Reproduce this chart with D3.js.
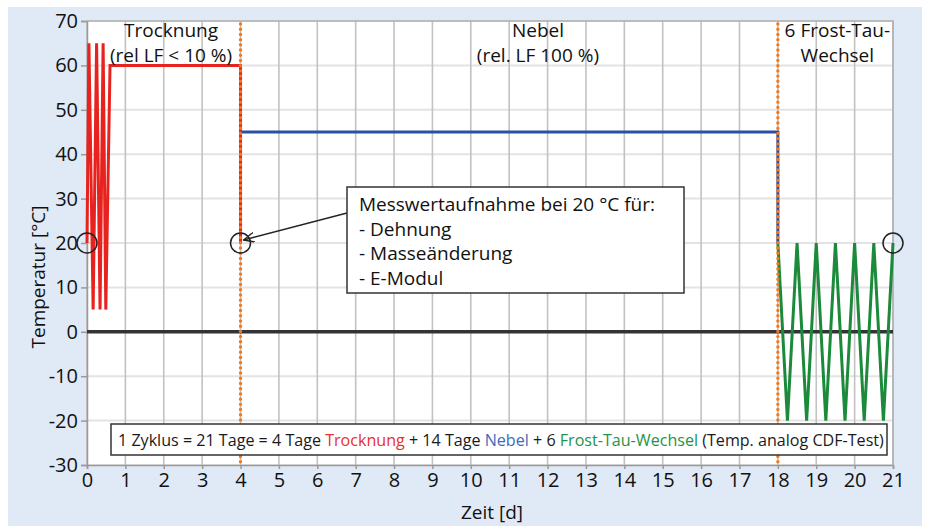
<!DOCTYPE html>
<html><head><meta charset="utf-8">
<script src="https://cdn.jsdelivr.net/npm/d3@7"></script>
<style>body{margin:0;background:#fff}svg{display:block;font-family:"Open Sans",sans-serif}</style>
</head><body>
<svg id="c" width="925" height="526"></svg>
<script>
// ---- data ----
const xTicks = [0,1,2,3,4,5,6,7,8,9,10,11,12,13,14,15,16,17,18,19,20,21];
const yTicks = [-30,-20,-10,0,10,20,30,40,50,60,70];
const trocknungX = [0,0.05,0.16,0.25,0.34,0.42,0.49,0.6,4,4];
const trocknungY = [20,65,5,65,5,65,5,60,60,20];
const nebelX = [4,18,18];
const nebelY = [45,45,20];
const frostX = [18,18.25,18.5,18.75,19,19.25,19.5,19.75,20,20.25,20.5,20.75,21];
const frostY = [20,-20,20,-20,20,-20,20,-20,20,-20,20,-20,20];
const phaseBounds = [4,18];
const measureX = [0,4,21];
const measureY = [20,20,20];
const zeroLine = [0,21];
const phaseLabels = [
  {x:2.19,  lines:["Trocknung","(rel LF < 10 %)"]},
  {x:11.75, lines:["Nebel","(rel. LF 100 %)"]},
  {x:19.55, lines:["6 Frost-Tau-","Wechsel"]}
];
const noteLines = ["Messwertaufnahme bei 20 °C für:","- Dehnung","- Masseänderung","- E-Modul"];
const legendParts = [
  {t:"1 Zyklus = 21 Tage = 4 Tage ", c:"#1a1a1a"},
  {t:"Trocknung", c:"#e8302c"},
  {t:" + 14 Tage ", c:"#1a1a1a"},
  {t:"Nebel", c:"#3a6cc0"},
  {t:" + 6 ", c:"#1a1a1a"},
  {t:"Frost-Tau-Wechsel", c:"#1e9447"},
  {t:" (Temp. analog CDF-Test)", c:"#1a1a1a"}
];

const svg = d3.select("#c");
svg.append("rect").attr("x",8).attr("y",7).attr("width",914).attr("height",519).attr("fill","#e0e9f6");

const x = d3.scaleLinear().domain([0,21]).range([87,893]);
const y = d3.scaleLinear().domain([-30,70]).range([465,21]);

svg.append("rect").attr("x",x(0)).attr("y",y(70)).attr("width",x(21)-x(0)).attr("height",y(-30)-y(70)).attr("fill","#fff");

// grid
svg.append("g").selectAll("line").data(yTicks).join("line")
  .attr("x1",x(0)).attr("x2",x(21)).attr("y1",d=>y(d)).attr("y2",d=>y(d))
  .attr("stroke","#e3e3e3").attr("stroke-width",2);
svg.append("g").selectAll("line").data(xTicks).join("line")
  .attr("x1",d=>x(d)).attr("x2",d=>x(d)).attr("y1",y(70)).attr("y2",y(-30))
  .attr("stroke","#c2c2c2").attr("stroke-width",1.6);

// axes
const fmt = d => String(d);
const yAxis = svg.append("g").attr("transform",`translate(${x(0)},0)`)
  .call(d3.axisLeft(y).tickValues(yTicks).tickFormat(fmt).tickSize(6).tickPadding(3));
const xAxis = svg.append("g").attr("transform",`translate(0,${y(-30)})`)
  .call(d3.axisBottom(x).tickValues(xTicks).tickFormat(fmt).tickSize(4).tickPadding(4));
[yAxis,xAxis].forEach(a=>{
  a.select(".domain").attr("stroke","#9a9a9a").attr("stroke-width",1.5);
  a.selectAll(".tick line").attr("stroke","#9a9a9a").attr("stroke-width",1.5);
  a.selectAll("text").attr("font-size",20).attr("fill","#111").attr("font-family","'Open Sans',sans-serif");
});
// frame top/right
svg.append("path").attr("d",`M${x(0)},${y(70)}H${x(21)}V${y(-30)}`).attr("fill","none").attr("stroke","#b0b0b0").attr("stroke-width",1.5);

// zero line
svg.append("line").attr("x1",x(zeroLine[0])).attr("x2",x(zeroLine[1])).attr("y1",y(0)).attr("y2",y(0))
  .attr("stroke","#333").attr("stroke-width",3.5);

const line = d3.line().x(d=>x(d[0])).y(d=>y(d[1]));
function series(xs,ys,color){
  svg.append("path").datum(xs.map((v,i)=>[v,ys[i]])).attr("d",line)
    .attr("fill","none").attr("stroke",color).attr("stroke-width",3).attr("stroke-linejoin","miter");
}
series(nebelX,nebelY,"#2b4fa3");
series(trocknungX,trocknungY,"#e8231f");
series(frostX,frostY,"#1b8a3a");

// phase boundaries (dotted)
svg.append("g").selectAll("line").data(phaseBounds).join("line")
  .attr("x1",d=>x(d)).attr("x2",d=>x(d)).attr("y1",y(70)+3).attr("y2",y(-30))
  .attr("stroke","#f4781c").attr("stroke-width",3.4).attr("stroke-dasharray","0.01 5.2").attr("stroke-linecap","round");

// measurement circles
svg.append("g").selectAll("circle").data(measureX.map((v,i)=>[v,measureY[i]])).join("circle")
  .attr("cx",d=>x(d[0])).attr("cy",d=>y(d[1])).attr("r",10)
  .attr("fill","none").attr("stroke","#222").attr("stroke-width",1.5);

// phase labels
phaseLabels.forEach(p=>{
  const t = svg.append("text").attr("x",x(p.x)).attr("y",37).attr("text-anchor","middle")
    .attr("font-size",19).attr("fill","#111");
  p.lines.forEach((l,i)=>t.append("tspan").attr("x",x(p.x)).attr("dy",i?24.5:0).text(l));
});

// arrow
svg.append("defs").append("marker").attr("id","ah").attr("viewBox","0 0 12 10").attr("refX",11).attr("refY",5)
  .attr("markerWidth",12).attr("markerHeight",10).attr("markerUnits","userSpaceOnUse").attr("orient","auto")
  .append("path").attr("d","M0,0L11,5L0,10").attr("fill","none").attr("stroke","#222").attr("stroke-width",1.3);
svg.append("line").attr("x1",347).attr("y1",213).attr("x2",x(4)+3).attr("y2",y(20)-3)
  .attr("stroke","#222").attr("stroke-width",1.3).attr("marker-end","url(#ah)");

// note box
svg.append("rect").attr("x",347).attr("y",187).attr("width",337).attr("height",106)
  .attr("fill","#fff").attr("stroke","#333").attr("stroke-width",1.5);
const nt = svg.append("text").attr("font-size",19).attr("fill","#111");
noteLines.forEach((l,i)=>nt.append("tspan").attr("x",359).attr("y",211+i*24.7).text(l));

// legend box
svg.append("rect").attr("x",111).attr("y",424).attr("width",776).attr("height",31)
  .attr("fill","#fff").attr("stroke","#333").attr("stroke-width",1.5);
const lt = svg.append("text").attr("x",118).attr("y",446).attr("font-size",16.1);
legendParts.forEach(p=>lt.append("tspan").attr("fill",p.c).text(p.t));

// axis titles
svg.append("text").attr("x",492).attr("y",519).attr("text-anchor","middle").attr("font-size",19).attr("fill","#111").text("Zeit [d]");
svg.append("text").attr("transform",`translate(45,${277}) rotate(-90)`).attr("text-anchor","middle")
  .attr("font-size",19).attr("fill","#111").text("Temperatur [°C]");
</script>
</body></html>
